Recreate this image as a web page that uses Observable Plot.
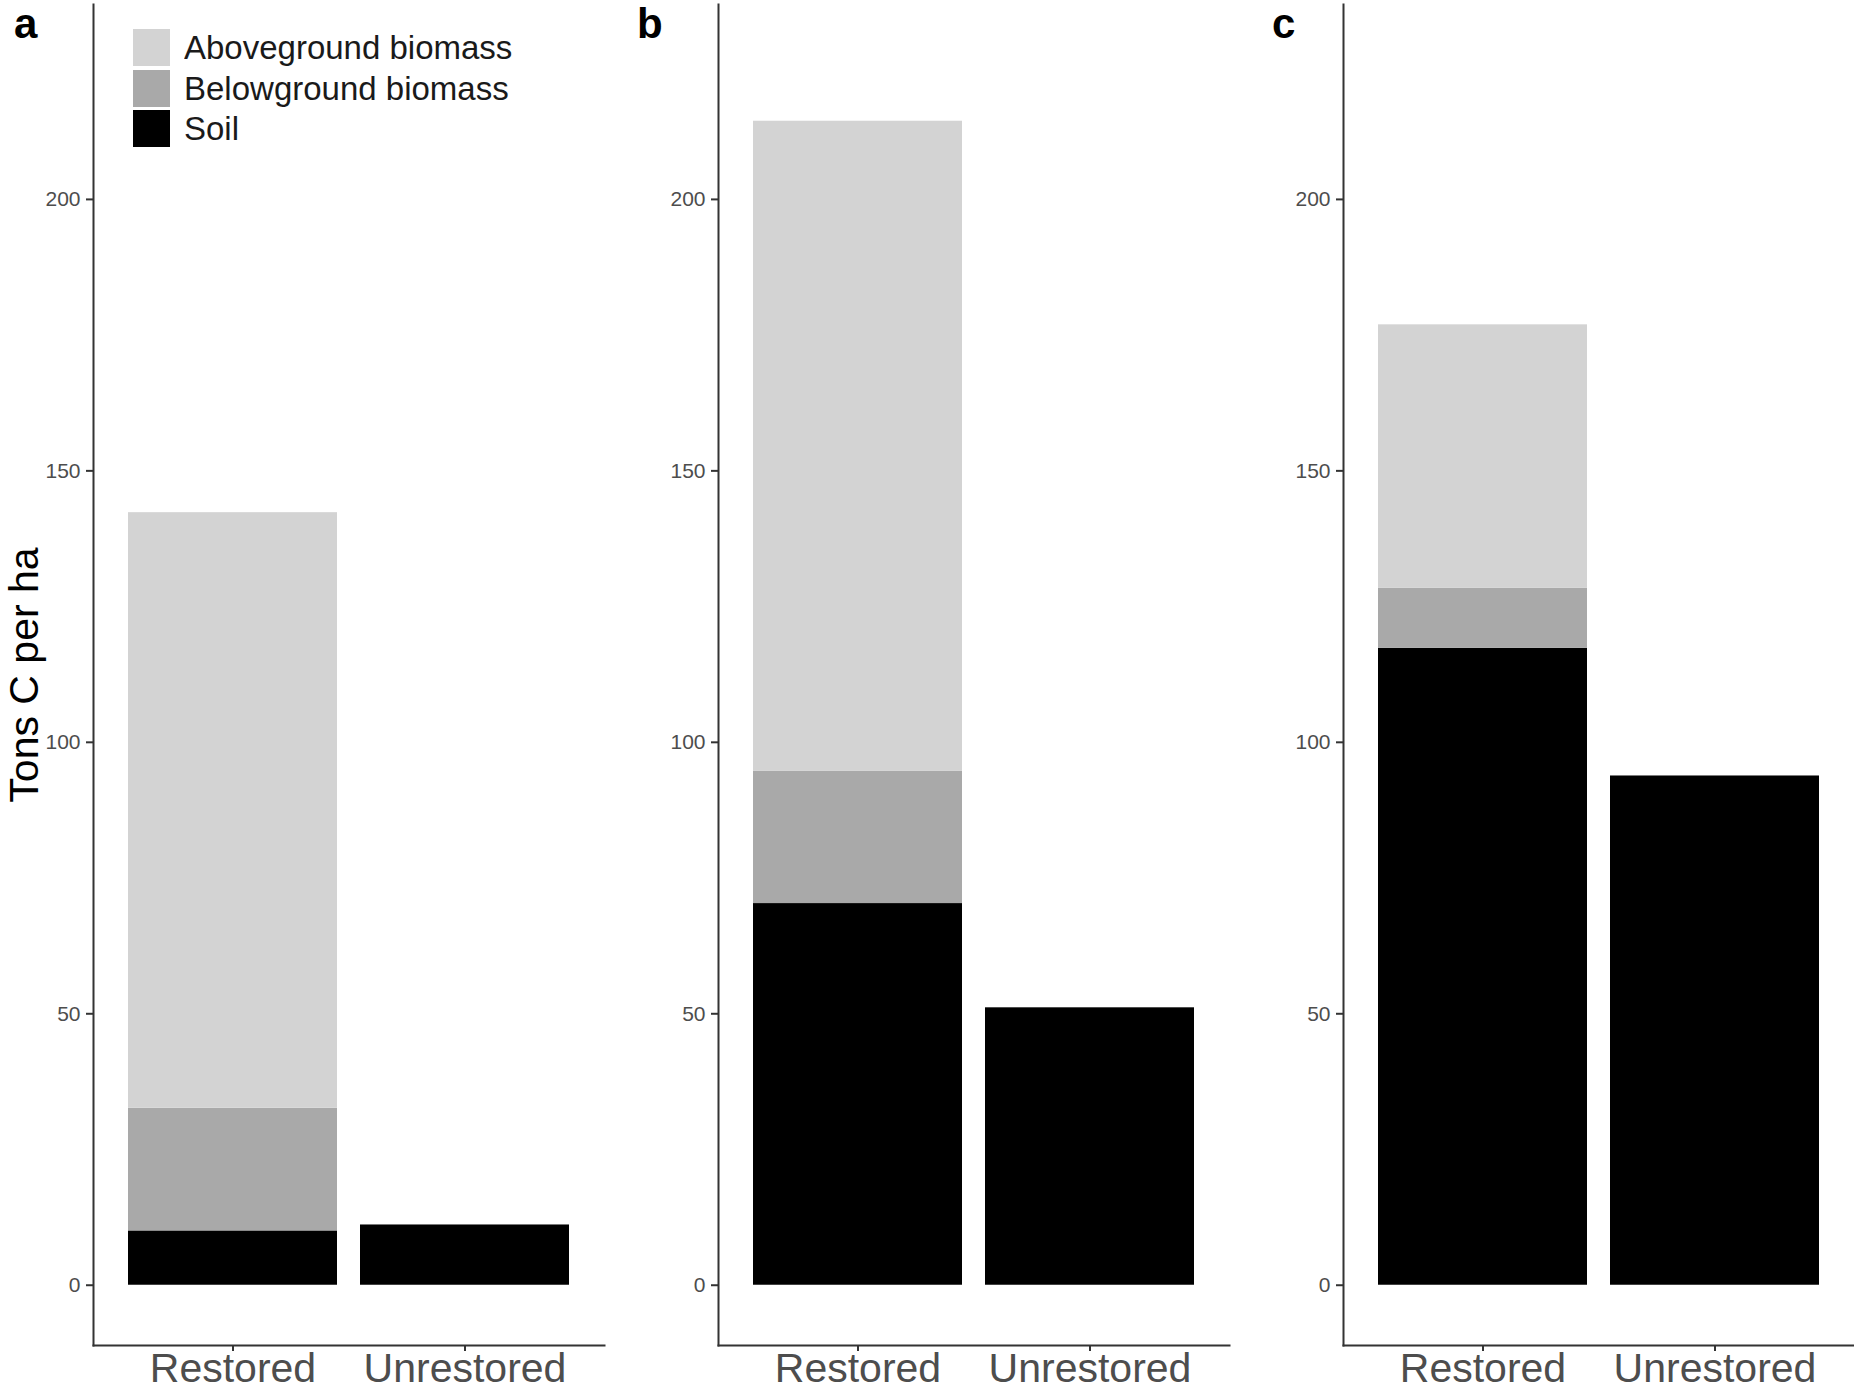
<!DOCTYPE html>
<html>
<head>
<meta charset="utf-8">
<script src="https://cdn.jsdelivr.net/npm/d3@7"></script>
<script src="https://cdn.jsdelivr.net/npm/@observablehq/plot@0.6"></script>
<style>
  html, body { margin: 0; padding: 0; background: #fff; }
  #wrap { position: relative; width: 1854px; height: 1390px; overflow: hidden; background: #fff;
          font-family: "Liberation Sans", Arial, Helvetica, sans-serif; }
  .panel { position: absolute; top: 0; }
  .tag { position: absolute; font: bold 42px "Liberation Sans", Arial, sans-serif; color: #000; line-height: 24px; }
  #legend { position: absolute; left: 133px; top: 29px; width: 480px; }
  #legend .lg-swatches { font-family: "Liberation Sans", Arial, sans-serif; font-size: 33px; color: #1a1a1a; margin: 0; }
  #legend .lg-swatch { padding-bottom: 3.5px; line-height: 37px; }
  #legend .lg-swatch > svg { margin-right: 14px; }
</style>
</head>
<body>
<div id="wrap"></div>
<script>
// ---- data ----
const panels = ["a", "b", "c"];
const sites = ["Restored", "Unrestored"];
const components = ["Aboveground biomass", "Belowground biomass", "Soil"];
const soilRestored = [10.0, 70.3, 117.3];
const belowRestored = [22.6, 24.4, 11.1];
const aboveRestored = [109.7, 119.7, 48.5];
const soilUnrestored = [11.1, 51.1, 93.8];
const yTicks = [0, 50, 100, 150, 200];
const yLabel = "Tons C per ha";

const componentColors = ["#d3d3d3", "#a9a9a9", "#000000"];

const rows = [];
panels.forEach((p, i) => {
  rows.push({panel: p, site: sites[0], component: components[2], value: soilRestored[i]});
  rows.push({panel: p, site: sites[0], component: components[1], value: belowRestored[i]});
  rows.push({panel: p, site: sites[0], component: components[0], value: aboveRestored[i]});
  rows.push({panel: p, site: sites[1], component: components[2], value: soilUnrestored[i]});
});

const wrap = document.getElementById("wrap");
const font = '"Liberation Sans", Arial, Helvetica, sans-serif';

const layout = [
  {left: 0, width: 625, marginRight: 21, tagX: 14, tagTop: 11.5},
  {left: 625, width: 625, marginRight: 21, tagX: 637, tagTop: 11.5},
  {left: 1250, width: 604, marginRight: 0, tagX: 1272, tagTop: 11.5}
];

panels.forEach((p, i) => {
  const L = layout[i];
  const data = rows.filter(d => d.panel === p);
  const marks = [
    Plot.barY(data, {x: "site", y: "value", fill: "component"}),
    Plot.frame({anchor: "left", stroke: "#333", strokeWidth: 2}),
    Plot.frame({anchor: "bottom", stroke: "#333", strokeWidth: 2}),
    Plot.axisY({ticks: yTicks, tickSize: 7, tickPadding: 6, fontSize: 21, fill: "#4d4d4d",
                stroke: "#333", strokeWidth: 2, label: null}),
    Plot.axisX({tickSize: 6, tickPadding: 1, fontSize: 41, fill: "#4d4d4d",
                stroke: "#333", strokeWidth: 2, label: null})
  ];
  if (i === 0) {
    marks.push(Plot.text([yLabel], {frameAnchor: "left", text: d => d, rotate: -90, dx: -69,
                                    textAnchor: "middle", lineAnchor: "middle",
                                    fontSize: 41, fill: "#000"}));
  }
  const chart = Plot.plot({
    width: L.width,
    height: 1390,
    marginLeft: 93,
    marginRight: L.marginRight,
    marginTop: 4,
    marginBottom: 45,
    style: {fontFamily: font, background: "transparent", overflow: "visible"},
    x: {domain: sites, paddingInner: 0.1, paddingOuter: 0.15, label: null},
    y: {domain: [-11.1, 235.9], label: null},
    color: {domain: components, range: componentColors},
    marks
  });
  chart.classList.add("panel");
  chart.style.left = L.left + "px";
  wrap.appendChild(chart);

  const tag = document.createElement("div");
  tag.className = "tag";
  tag.textContent = p;
  tag.style.left = L.tagX + "px";
  tag.style.top = L.tagTop + "px";
  wrap.appendChild(tag);
});

const legendDiv = document.createElement("div");
legendDiv.id = "legend";
legendDiv.appendChild(Plot.legend({
  color: {domain: components, range: componentColors, type: "ordinal"},
  legend: "swatches",
  columns: 1,
  swatchSize: 37,
  className: "lg"
}));
wrap.appendChild(legendDiv);
</script>
</body>
</html>
